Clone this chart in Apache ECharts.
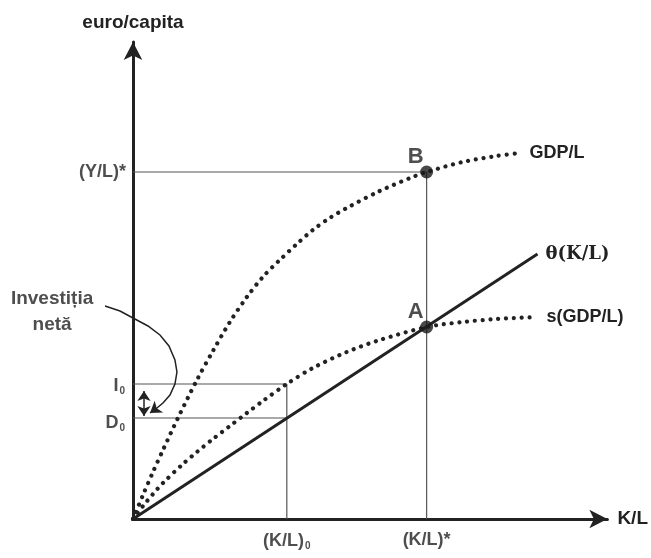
<!DOCTYPE html>
<html>
<head>
<meta charset="utf-8">
<script src="https://cdn.jsdelivr.net/npm/echarts@6/dist/echarts.min.js"></script>
<style>html,body{margin:0;padding:0;background:#fff}#c{width:651px;height:558px}</style>
</head>
<body>
<div id="c"></div>
<script>
// ---- data (chart units) ----
const gdpPerL = [[0,0],[10,24],[20,47],[30,69],[45,101],[64,139],[80,168],[97,197],[114,222],[130,242],[147,259],[164,275],[180,289],[197,301],[214,311],[247,328],[280,342],[294,347],[330,357],[364,363],[387,366]];
const sGdpPerL = [[0,0],[10,13],[20,25],[30,36],[50,55],[64,67],[80,80],[97,93],[114,106],[130,118],[154,135],[180,151],[214,167],[247,179],[294,192],[330,197],[364,200],[404,202]];
const thetaLine = [[0,0],[405,265]];
const KL0 = 154, KLstar = 294, YLstar = 347, I0 = 135, D0 = 101, Ay = 192;
const netInvArrow = [[-28,213],[-13,208],[0,201],[15,193],[27,184],[36,173],[42,159],[44,147],[42,135],[37,124],[30,116],[24,111]];
const netInvArrowTip = [[24,111],[17,106]];
const dblArrow = [[11,128],[11,103]];
const xTickLabels = ['{m|(K/L)}{s|0}', '{m|(K/L)*}'];
const yTickLabels = ['{m|(Y/L)*}', '{m|I}{s|0}', '{m|D}{s|0}'];
const curveNames = ['GDP/L', 's(GDP/L)', 'θ(K/L)'];
const pointNames = ['B', 'A'];
const annotation = 'Investiția\nnetă';

const C = '#222';
const guide = {color:'#555', width:1.2};
const dotted = {color:C, width:4.2, type:[0.01,7.8], cap:'round'};
const rich = {
  m:{fontFamily:'Liberation Sans', fontWeight:'bold', fontSize:18, color:C},
  s:{fontFamily:'Liberation Sans', fontWeight:'bold', fontSize:10, color:C, verticalAlign:'bottom', padding:[10,0,0,1]}
};
const lbl = {fontFamily:'Liberation Sans', fontWeight:'bold', fontSize:18, color:C};
function seg(d){return {type:'line', data:d, symbol:'none', lineStyle:guide, silent:true, z:1, animation:false};}

const chart = echarts.init(document.getElementById('c'), null, {renderer:'canvas'});
chart.setOption({
  animation:false,
  grid:{left:133, right:43, top:42, bottom:39},
  xAxis:{type:'value', min:0, max:475, axisTick:{show:false}, axisLabel:{show:false}, splitLine:{show:false},
    axisLine:{show:true, lineStyle:{color:C, width:3}, symbol:['none','arrow'], symbolSize:[14,18]},
    name:'K/L', nameLocation:'end', nameGap:10,
    nameTextStyle:Object.assign({}, lbl, {fontSize:19})},
  yAxis:{type:'value', min:0, max:477, axisTick:{show:false}, axisLabel:{show:false}, splitLine:{show:false},
    axisLine:{show:true, lineStyle:{color:C, width:3}, symbol:['none','arrow'], symbolSize:[14,18]},
    name:'euro/capita', nameLocation:'end', nameGap:10,
    nameTextStyle:Object.assign({}, lbl, {fontSize:19})},
  series:[
    seg([[0,YLstar],[KLstar,YLstar]]),
    seg([[KLstar,0],[KLstar,YLstar]]),
    seg([[0,I0],[KL0,I0]]),
    seg([[0,D0],[KL0,D0]]),
    seg([[KL0,0],[KL0,I0]]),
    {type:'line', data:gdpPerL, smooth:0.3, symbol:'none', z:3,
     lineStyle:dotted,
     endLabel:Object.assign({show:true, formatter:curveNames[0], distance:10}, lbl)},
    {type:'line', data:sGdpPerL, smooth:0.3, symbol:'none', z:3,
     lineStyle:dotted,
     endLabel:Object.assign({show:true, formatter:curveNames[1], distance:10}, lbl)},
    {type:'line', data:thetaLine, symbol:'none', z:3,
     lineStyle:{color:C, width:3},
     endLabel:{show:true, formatter:curveNames[2], distance:8, fontFamily:'DejaVu Serif', fontWeight:'bold', fontSize:18, color:C}},
    {type:'scatter', z:5, symbolSize:13, itemStyle:{color:'#1a1a1a'},
     data:[
       {value:[KLstar,YLstar], label:{show:true, formatter:pointNames[0], position:'top', distance:-2, offset:[-11,0], fontFamily:'Liberation Sans', fontWeight:'bold', fontSize:22, color:C}},
       {value:[KLstar,Ay], label:{show:true, formatter:pointNames[1], position:'top', distance:-2, offset:[-11,0], fontFamily:'Liberation Sans', fontWeight:'bold', fontSize:22, color:C}}
     ]},
    {type:'scatter', symbolSize:0, clip:false, silent:true, z:4,
     data:[
       {value:[KL0,0], label:{show:true, formatter:xTickLabels[0], position:'bottom', distance:12, rich:rich}},
       {value:[KLstar,0], label:{show:true, formatter:xTickLabels[1], position:'bottom', distance:12, rich:rich}},
       {value:[0,YLstar], label:{show:true, formatter:yTickLabels[0], position:'left', distance:7, rich:rich}},
       {value:[0,I0-2], label:{show:true, formatter:yTickLabels[1], position:'left', distance:8, rich:rich}},
       {value:[0,D0-5], label:{show:true, formatter:yTickLabels[2], position:'left', distance:8, rich:rich}},
       {value:[-81,207], label:{show:true, formatter:annotation, position:'inside', align:'center', lineHeight:26, fontFamily:'Liberation Sans', fontWeight:'bold', fontSize:19, color:C}}
     ]},
    {type:'lines', coordinateSystem:'cartesian2d', polyline:true, clip:false, silent:true, z:4,
     lineStyle:{color:C, width:1.5, opacity:1},
     data:[{coords:netInvArrow}]},
    {type:'lines', coordinateSystem:'cartesian2d', clip:false, silent:true, z:4,
     symbol:['none','arrow'], symbolSize:11,
     lineStyle:{color:C, width:1.5, opacity:1},
     data:[{coords:netInvArrowTip}]},
    {type:'lines', coordinateSystem:'cartesian2d', clip:false, silent:true, z:4,
     symbol:['arrow','arrow'], symbolSize:10,
     lineStyle:{color:C, width:1.5, opacity:1},
     data:[{coords:dblArrow}]}
  ]
});
</script>
</body>
</html>
